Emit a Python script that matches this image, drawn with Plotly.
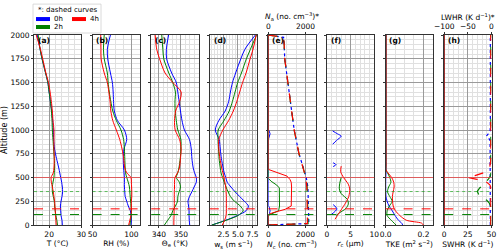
import plotly.graph_objects as go

# ---------------- data ----------------
Z = [0, 50, 100, 150, 200, 250, 300, 350, 400, 450, 500, 550, 600, 700, 800, 900,
     1000, 1100, 1200, 1300, 1400, 1500, 1600, 1750, 1850, 2000]

T_0h = [24.1, 24.0, 23.7, 23.6, 23.5, 23.7, 24.0, 24.2, 24.1, 23.9, 23.6, 23.3, 23.0, 22.3, 21.7, 21.4,
        21.3, 21.1, 20.8, 20.4, 20.0, 19.6, 18.9, 17.8, 17.2, 16.3]
T_2h = [22.6, 22.4, 22.1, 21.9, 21.7, 21.6, 21.3, 21.0, 21.0, 21.2, 21.5, 21.6, 21.7, 21.6, 21.4, 21.2,
        21.0, 20.9, 20.7, 20.4, 20.0, 19.6, 18.9, 17.8, 17.2, 16.6]
T_4h = [22.2, 22.1, 22.0, 21.9, 21.8, 21.7, 21.5, 21.3, 21.0, 20.7, 20.6, 21.3, 21.5, 21.6, 21.5, 21.5,
        21.5, 21.2, 21.0, 20.7, 20.3, 19.8, 19.0, 18.0, 17.3, 16.0]

RH_0h = [99.5, 100, 99.5, 98.7, 96, 94, 92, 91.5, 91, 91, 91, 90.5, 90, 89.5, 90.5, 94,
         91, 82, 78, 77, 76.5, 75.5, 73, 69.5, 69, 73]
RH_2h = [98, 99, 100, 100, 99.5, 99, 98.5, 98, 97.5, 96, 94, 92.5, 92, 91.5, 91, 90,
         86.6, 80.6, 76, 73.5, 71.5, 70, 69, 65, 64, 65]
RH_4h = [96.5, 98, 99.5, 100, 100, 100, 100.5, 100.5, 100.3, 100, 99.5, 94, 91.5, 90, 88, 85,
         80.6, 76, 73.5, 72.5, 71, 69, 65, 61, 60.8, 60.5]

TE_0h = [354, 353.8, 353.7, 353.7, 353.5, 353.2, 353.9, 355, 356, 357, 357, 356.2, 355.6, 355, 354.7, 353.9,
         351.6, 350.5, 349.8, 349.2, 348.6, 347.9, 345.8, 343.5, 343.4, 344.4]
TE_2h = [342.5, 344, 345.5, 346.3, 347.5, 348.5, 348.6, 349.2, 349.8, 349.3, 347.9, 348.6, 349.1, 349.7, 350, 350,
         348.6, 347.9, 347.4, 347.3, 347.5, 346.3, 344.5, 342.2, 341.8, 341.3]
TE_4h = [346.8, 346.8, 346.9, 346.9, 347, 347, 347, 347, 347.1, 347.1, 347.3, 348.5, 349.3, 349.8, 350.1, 349.4,
         347.4, 347.1, 347.6, 349.4, 350.1, 346.3, 342.8, 340.3, 339, 338.3]

WS_0h = [0.5, 2.9, 4.9, 6.4, 6.8, 6.1, 5.3, 4.5, 3.8, 3.15, 2.9, 2.63, 2.45, 2.15, 1.95, 1.77,
         1.1, 1.7, 2.8, 3.4, 3.7, 4.06, 4.6, 5.5, 6.2, 8.0]
WS_2h = [0.5, 3.0, 5.0, 5.9, 5.4, 4.4, 3.7, 3.3, 2.95, 2.65, 2.35, 2.08, 1.95, 1.75, 1.65, 1.57,
         1.6, 2.6, 3.5, 4.05, 4.5, 4.96, 5.6, 6.46, 7.15, 8.2]
WS_4h = [2.3, 2.7, 2.95, 3.0, 3.0, 3.0, 3.0, 2.95, 2.9, 2.75, 2.6, 2.4, 2.2, 1.9, 1.7, 1.7,
         2.4, 3.4, 4.2, 4.8, 5.3, 5.8, 6.4, 7.1, 7.6, 8.15]

# cloud droplet number (solid) and aerosol number (dashed)
NC_0h_z = [0, 100, 120, 150, 190, 200, 900, 930, 960, 990, 1000, 2000]
NC_0h = [0, 0, 60, 90, 40, 0, 0, 60, 90, 40, 0, 0]
NC_2h_z = [0, 100, 115, 150, 200, 300, 390, 420, 460, 490, 2000]
NC_2h = [0, 0, 150, 550, 600, 600, 590, 450, 150, 0, 0]
NC_4h_z = [0, 110, 130, 165, 200, 300, 400, 450, 480, 515, 550, 585, 2000]
NC_4h = [0, 0, 250, 900, 1230, 1250, 1250, 1230, 1160, 1000, 450, 0, 0]

NA_z = [0, 15, 100, 200, 300, 400, 500, 600, 750, 1000, 1250, 1500, 1750, 1900, 1975, 2000]
NA_0h = [0, 2180, 2170, 2160, 2150, 2130, 2040, 1880, 1650, 1390, 1220, 1070, 880, 850, 820, 0]
NA_2h = [0, 2140, 2130, 2120, 2110, 2090, 2025, 1880, 1650, 1390, 1220, 1070, 880, 850, 820, 0]
NA_4h = [0, 2100, 2100, 2090, 2085, 2070, 2015, 1880, 1650, 1390, 1220, 1070, 880, 850, 820, 0]

# cloud droplet radius (gaps where no cloud)
RC_0h_z = [990, 960, 935, 890, 850, None, 655, 635, 615, None, 215, 170, 110]
RC_0h = [1.2, 2.2, 3.0, 2.0, 1.2, None, 1.3, 1.9, 1.3, None, 1.3, 2.1, 0.9]
RC_2h_z = [500, 440, 380, 330, 270, 220, 175, 130, 100]
RC_2h = [3.0, 2.7, 2.6, 3.0, 4.3, 4.5, 4.0, 2.7, 1.9]
RC_4h_z = [620, 560, 500, 430, 380, 300, 230, 160, 100, 60]
RC_4h = [3.0, 2.9, 3.5, 4.5, 4.8, 4.6, 3.9, 3.0, 2.2, 1.7]

TKE_z = [0, 20, 50, 100, 150, 200, 250, 300, 350, 400, 450, 500, 550, 580, 620, 2000]
TKE_0h = [0.09, 0.085, 0.068, 0.05, 0.035, 0.018, 0.008, 0.002, 0.001, 0.0005, 0.0005, 0.001, 0.002, 0.002, 0.002, 0.002]
TKE_2h = [0.055, 0.045, 0.03, 0.008, 0.008, 0.02, 0.035, 0.022, 0.01, 0.016, 0.028, 0.022, 0.01, 0.002, 0.002, 0.002]
TKE_4h = [0.2, 0.19, 0.11, 0.075, 0.052, 0.04, 0.037, 0.036, 0.04, 0.045, 0.043, 0.032, 0.012, 0.002, 0.002, 0.002]

SW_z = [0, 2000]
SW_0h = [0, 0]
SW_2h = [0, 0]
SW_4h = [0, 0]

LW_0h_z = [0, 850, 890, 915, 940, 960, 990, 1030, 2000]
LW_0h = [-2.5, -2.5, -3, -6, -10, -7, -3, -2.5, -2.5]
LW_2h_z = [0, 200, 233, 260, 290, 320, 355, 390, 425, 460, 500, 530, 2000]
LW_2h = [-1.5, -2, -5, -10, -19, -27, -30, -25, -16, -10, -4, -1.5, -1.5]
LW_4h_z = [0, 400, 423, 458, 483, 500, 520, 546, 580, 616, 680, 2000]
LW_4h = [-1.5, -1.5, -3.6, -12, -33, -51, -35, -19, -9, -3.6, -1.5, -1.5]

HLINE_ALT = [110, 170, 352, 500]
HLINE_COLOR = ['#008000', '#ff0000', 'rgba(0,160,0,0.6)', 'rgba(255,60,60,0.65)']
HLINE_DASH = ['dash', 'dash', 'dot', 'solid']

TIMES = ['0h', '2h', '4h']
COLORS = ['#0000ff', '#008000', '#ff0000']

# ---------------- figure ----------------
FONT = 'DejaVu Sans'
FS = 7.5
W, H = 500, 250
ML, MR, MT, MB = 34, 8, 35, 24.5
PW = W - ML - MR
PH = H - MT - MB
STEP, PANW = 58.6, 47.3


def xp(px):
    return (px - ML) / PW


def yp(py):
    return (H - MB - py) / PH


fig = go.Figure()


def add(xa, ya, x, y, color, dash='solid', shape='linear', width=1):
    fig.add_trace(go.Scatter(
        x=x, y=y, xaxis=xa, yaxis=ya, mode='lines',
        line=dict(color=color, width=width, dash=dash, shape=shape, smoothing=0.8),
        showlegend=False, hoverinfo='skip', connectgaps=False))


panels = [
    dict(series=[(T_0h, Z), (T_2h, Z), (T_4h, Z)], rng=[15.3, 30], dtick=10, tick0=0, minor=2,
         title='T (°C)', spline=True),
    dict(series=[(RH_0h, Z), (RH_2h, Z), (RH_4h, Z)], rng=[50, 111], dtick=50, tick0=0, minor=10,
         title='RH (%)', spline=True),
    dict(series=[(TE_0h, Z), (TE_2h, Z), (TE_4h, Z)], rng=[336.5, 358], dtick=10, tick0=0, minor=2,
         title='Θ<sub>e</sub> (°K)', spline=True),
    dict(series=[(WS_0h, Z), (WS_2h, Z), (WS_4h, Z)], rng=[0.15, 8.3], dtick=2.5, tick0=0, minor=0.5,
         title='w<sub>s</sub> (m s<sup>−1</sup>)', spline=True, fmt='.1f'),
    dict(series=[(NC_0h, NC_0h_z), (NC_2h, NC_2h_z), (NC_4h, NC_4h_z)], rng=[0, 2550], dtick=2000, tick0=0,
         minor=500, title='<i>N</i><sub>c</sub> (no. cm<sup>−3</sup>)', spline=False),
    dict(series=[(RC_0h, RC_0h_z), (RC_2h, RC_2h_z), (RC_4h, RC_4h_z)], rng=[0, 10], dtick=5, tick0=0,
         minor=1, title='<i>r</i><sub>c</sub> (μm)', spline=True),
    dict(series=[(TKE_0h, TKE_z), (TKE_2h, TKE_z), (TKE_4h, TKE_z)], rng=[0, 0.25], dtick=0.2, tick0=0,
         minor=0.05, title='TKE (m<sup>2</sup> s<sup>−2</sup>)', spline=True, fmt='.1f'),
    dict(series=[(SW_0h, SW_z), (SW_2h, SW_z), (SW_4h, SW_z)], rng=[0, 50], dtick=25, tick0=0,
         minor=5, title='SWHR (K d<sup>−1</sup>)', spline=False),
]

labels = ['(a)', '(b)', '(c)', '(d)', '(e)', '(f)', '(g)', '(h)']
axis_common = dict(
    showline=True, linecolor='#333333', linewidth=0.8, mirror=True,
    ticks='outside', ticklen=2, tickwidth=0.8, tickcolor='#333333',
    showgrid=True, gridcolor='#9a9a9a', gridwidth=1, zeroline=False, automargin=False,
    tickfont=dict(family=FONT, size=FS, color='#000000'),
)

layout = dict(
    width=W, height=H, margin=dict(l=ML, r=MR, t=MT, b=MB, autoexpand=False),
    paper_bgcolor='white', plot_bgcolor='white', showlegend=False,
    font=dict(family=FONT, size=FS, color='#000000'),
)
annotations = []
shapes = []

for i, p in enumerate(panels):
    n = i + 1
    xa = 'x' if n == 1 else f'x{n}'
    ya = 'y' if n == 1 else f'y{n}'
    left = i * STEP
    dom = [xp(ML + left), xp(ML + left + PANW)]
    xcfg = dict(axis_common)
    xcfg.update(domain=dom, range=p['rng'], dtick=p['dtick'], tick0=p['tick0'], anchor=ya,
                minor=dict(dtick=p['minor'], tick0=p['tick0'], showgrid=True, gridcolor='#e0e0e0',
                           gridwidth=0.8),
                title=dict(text=p['title'], font=dict(family=FONT, size=FS), standoff=0))
    if 'fmt' in p:
        xcfg['tickformat'] = p['fmt']
    ycfg = dict(axis_common)
    ycfg.update(domain=[0, 1], range=[0, 2000], dtick=250, tick0=0, anchor=xa,
                showticklabels=(n == 1),
                minor=dict(dtick=50, tick0=0, showgrid=True, gridcolor='#e0e0e0', gridwidth=0.8))
    if n == 1:
        ycfg['title'] = dict(text='Altitude (m)', font=dict(family=FONT, size=FS + 0.5), standoff=4)
    else:
        ycfg['matches'] = 'y'
    layout['xaxis' if n == 1 else f'xaxis{n}'] = xcfg
    layout['yaxis' if n == 1 else f'yaxis{n}'] = ycfg

    for (vals, zz), c in zip(p['series'], COLORS):
        add(xa, ya, vals, zz, c, shape='spline' if p['spline'] else 'linear')

    for alt, col, dsh in zip(HLINE_ALT, HLINE_COLOR, HLINE_DASH):
        shapes.append(dict(type='line', xref=f'{xa} domain', yref=ya, x0=0, x1=1, y0=alt, y1=alt,
                           line=dict(color=col, width=1, dash=dsh), layer='above'))

    annotations.append(dict(text=f'<b>{labels[i]}</b>', xref=f'{xa} domain', yref=f'{ya} domain',
                            x=0.04, y=0.97, xanchor='left', yanchor='middle', showarrow=False,
                            font=dict(family=FONT, size=FS, color='#000000')))

# top axes: aerosol number (e) and longwave heating rate (h)
top_common = dict(
    showline=False, ticks='outside', ticklen=2, tickwidth=0.8, tickcolor='#333333',
    showgrid=False, zeroline=False, side='top', automargin=False,
    tickfont=dict(family=FONT, size=FS, color='#000000'),
)
t9 = dict(top_common)
t9.update(overlaying='x5', anchor='y5', range=[0, 2550], dtick=2000, tick0=0,
          title=dict(text='<i>N</i><sub>a</sub> (no. cm<sup>−3</sup>)*', font=dict(family=FONT, size=FS),
                     standoff=0))
t10 = dict(top_common)
t10.update(overlaying='x8', anchor='y8', range=[-100, 0], dtick=50, tick0=0,
           title=dict(text='LWHR (K d<sup>−1</sup>)*', font=dict(family=FONT, size=FS), standoff=0))
layout['xaxis9'] = t9
layout['xaxis10'] = t10

for vals, c in zip([NA_0h, NA_2h, NA_4h], COLORS):
    add('x9', 'y5', vals, NA_z, c, dash='dot' if c == '#0000ff' else 'dash', width=1.2)
for (vals, zz), c in zip([(LW_0h, LW_0h_z), (LW_2h, LW_2h_z), (LW_4h, LW_4h_z)], COLORS):
    add('x10', 'y8', vals, zz, c, dash='dot' if c == '#0000ff' else 'dash', width=1.2)

# legend (drawn in paper coordinates)
shapes.append(dict(type='rect', xref='paper', yref='paper', x0=xp(33), x1=xp(101), y0=yp(33), y1=yp(4),
                   line=dict(color='#d0d0d0', width=0.8), fillcolor='white', layer='above'))
annotations.append(dict(text='*: dashed curves', xref='paper', yref='paper', x=xp(67), y=yp(10),
                        xanchor='center', yanchor='middle', showarrow=False,
                        font=dict(family=FONT, size=7, color='#000000')))
leg_pos = {'0h': (36, 19), '4h': (72, 19), '2h': (36, 27)}
for t, c in zip(TIMES, COLORS):
    x0, yc = leg_pos[t]
    shapes.append(dict(type='rect', xref='paper', yref='paper', x0=xp(x0), x1=xp(x0 + 14),
                       y0=yp(yc + 2), y1=yp(yc - 2), line=dict(width=0), fillcolor=c, layer='above'))
    annotations.append(dict(text=t, xref='paper', yref='paper', x=xp(x0 + 16), y=yp(yc),
                            xanchor='left', yanchor='middle', showarrow=False,
                            font=dict(family=FONT, size=7, color='#000000')))

layout['shapes'] = shapes
layout['annotations'] = annotations
fig.update_layout(**layout)
fig.write_html('out.html', config={'displayModeBar': False},
               post_script="document.body.style.margin='0';document.body.style.padding='0';")
